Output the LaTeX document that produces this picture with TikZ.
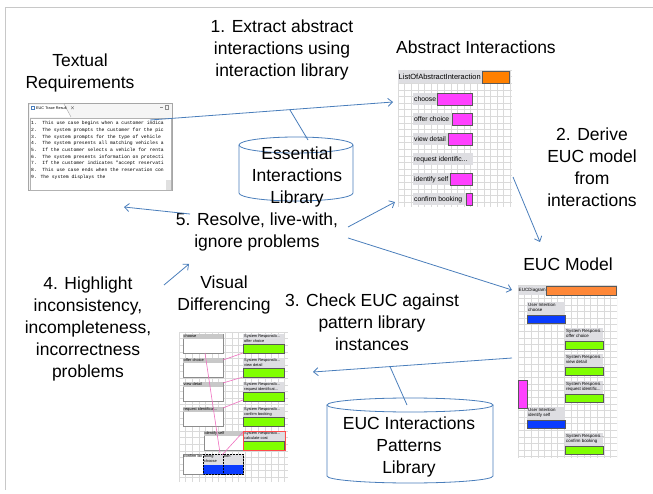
\documentclass[tikz,border=0pt]{standalone}
\usepackage{fontspec}
\setmainfont{Liberation Sans}
\newfontfamily\monof{Liberation Mono}
\usetikzlibrary{arrows.meta}
\newcommand\trdots{.\kern0pt.\kern0pt.}
\definecolor{arrowblue}{HTML}{4A7EBB}
\definecolor{gridc}{HTML}{DADADA}
\definecolor{magbar}{HTML}{FF40FF}
\definecolor{orangeA}{HTML}{FF8000}
\definecolor{orangeB}{HTML}{FF8838}
\definecolor{greenbar}{HTML}{80FF00}
\definecolor{bluebar}{HTML}{0A3CFF}
\definecolor{lblgray}{HTML}{DEDEE2}
\definecolor{hdrgray}{HTML}{C8C8C8}
\definecolor{framegray}{HTML}{C8C8C8}
\definecolor{pinkline}{HTML}{F070C0}
\begin{document}
\begin{tikzpicture}[x=1pt,y=-1pt,
  big/.style={font=\fontsize{17.5}{22}\selectfont, align=center, inner sep=0pt},
  arr/.style={draw=arrowblue, line width=0.8pt, -{Straight Barb[length=4.5pt,width=8pt]}},
  conn/.style={draw=arrowblue, line width=0.8pt},
  tiny/.style={font=\fontsize{4.4}{5}\selectfont, inner sep=0pt, anchor=north west, align=left},
  small/.style={font=\fontsize{6.8}{7}\selectfont, inner sep=0pt, anchor=west},
  gridl/.style={draw=gridc, line width=0.4pt},
  barb/.style={draw=black!65, line width=0.4pt},
]
\useasboundingbox (0,0) rectangle (653,494);
\draw[framegray, line width=1pt] (653,8) -- (5,8) -- (5,490);

% ---------------- Textual requirements ----------------
\node[big] (treq) at (80,73) {Textual\\Requirements};
\draw[black!35, fill=black!4, line width=0.4pt] (28,103) rectangle (172,190);
\draw[black!35, fill=white, line width=0.4pt] (29,117) -- (29,104) -- (64,104) -- (71,117);
\draw[arrowblue, line width=0.4pt] (31,106) rectangle (34,109);
\node[tiny, font=\fontsize{3.8}{4}\selectfont] (tabl) at (36,105.5) {EUC Trace Result \ \ $\times$};
\draw[black!45, line width=0.4pt] (160,107) -- (163,107);
\draw[black!45, line width=0.4pt] (165,105) rectangle (168,109);
\draw[black!30, fill=white, line width=0.4pt] (30,118) rectangle (171,190);
\fill[black!12] (166,180) rectangle (171,190);
\node[anchor=north west, inner sep=0pt, font=\monof\fontsize{4.7}{6.7}\selectfont, align=left] (reqtext) at (31,121)
{1.~~This use case begins when a customer indica\\
2.~~The system prompts the customer for the pic\\
3.~~The system prompts for the type of vehicle\\
4.~~The system presents all matching vehicles a\\
5.~~If the customer selects a vehicle for renta\\
6.~~The system presents information on protecti\\
7.~~If the customer indicates "accept reservati\\
8.~~This use case ends when the reservation con\\
9. The system displays the};

% ---------------- Labels ----------------
\node[big] (step1) at (282,50) {1. Extract abstract\\interactions using\\interaction library};
\node[big] (aititle) at (476,47) {Abstract Interactions};
\node[big] (step2) at (592,167) {2. Derive\\EUC model\\from\\interactions};
\node[big] (euctitle) at (568,264) {EUC Model};
\node[big] (step5) at (257,232) {5. Resolve, live-with,\\ignore problems};
\node[big] (vdtitle) at (224,295) {Visual\\Differencing};
\node[big] (step3) at (372,322) {3. Check EUC against\\pattern library\\instances};
\node[big] (step4) at (88,329) {4. Highlight\\inconsistency,\\incompleteness,\\incorrectness\\problems};

% ---------------- Essential Interactions Library cylinder ----------------
\draw[conn, fill=white] (239,145) -- (239,193) arc[start angle=180, end angle=0, x radius=57, y radius=8] -- (353,145);
\draw[conn] (296,145) ellipse [x radius=57, y radius=8];
\node[big] (eil) at (297,177) {Essential\\Interactions\\Library};
\coordinate (eiltop) at (308,140);

% ---------------- EUC Interactions Patterns Library cylinder ----------------
\draw[conn, fill=white] (327,405) -- (327,476) arc[start angle=180, end angle=0, x radius=83, y radius=7] -- (493,405);
\draw[conn] (410,405) ellipse [x radius=83, y radius=7];
\node[big] (epl) at (409,447) {EUC Interactions\\Patterns\\Library};
\coordinate (epltop) at (407,405);

% ---------------- Abstract Interactions screenshot ----------------
\fill[white] (398,70) rectangle (512,207);
\begin{scope}
\clip (398,70) rectangle (512,207);
\foreach \gx in {398,404.6,...,512} \draw[gridl] (\gx,70) -- (\gx,207);
\foreach \gy in {70,76.6,...,207} \draw[gridl] (398,\gy) -- (512,\gy);
\end{scope}
\fill[lblgray] (398,70) rectangle (482,83);
\node[small] (aihdr) at (398.5,76.5) {\resizebox{82pt}{!}{ListOfAbstractInteraction}};
\filldraw[fill=orangeA, barb] (482,71) rectangle (509,83);
\foreach \yy/\lab/\ms [count=\i] in {93/choose/437, 113/offer choice/452, 133/view detail/448, 153/request identific\trdots/0, 173/identify self/450, 193/confirm booking/466}{
  \fill[lblgray] (413,\yy) rectangle (473,\yy+12);
  \node[small] (ai\i) at (414,\yy+6.3) {\lab};
  \ifnum\ms>0 \filldraw[fill=magbar, barb] (\ms,\yy+0.5) rectangle (472,\yy+12);\fi
}

% ---------------- EUC Model screenshot ----------------
\fill[white] (518,285) rectangle (617,458);
\begin{scope}
\clip (518,285) rectangle (617,458);
\foreach \gx in {518,524.6,...,618} \draw[gridl] (\gx,285) -- (\gx,458);
\foreach \gy in {285,291.6,...,458} \draw[gridl] (518,\gy) -- (617,\gy);
\end{scope}
\fill[lblgray] (518,286) rectangle (546,295);
\node[tiny, anchor=west, font=\fontsize{4.6}{5}\selectfont] (euchdr) at (518.5,290.5) {EUCDiagram};
\filldraw[fill=orangeB, barb] (546,286) rectangle (616,295);
% user intentions
\foreach \yy/\lab [count=\i] in {302/choose, 407/identify self}{
  \fill[lblgray] (527,\yy) rectangle (565,\yy+13);
  \node[tiny] (eucu\i) at (528,\yy+1.5) {User Intention\\\lab};
  \filldraw[fill=bluebar, barb] (527,\yy+13) rectangle (565,\yy+21);
}
% system responses
\foreach \yy/\lab [count=\i] in {328/offer choice, 354/view detail, 381/request identific\trdots, 433/confirm booking}{
  \fill[lblgray] (565,\yy) rectangle (603,\yy+13);
  \node[tiny] (eucs\i) at (566,\yy+1.5) {System Responsi\trdots\\\lab};
  \filldraw[fill=greenbar, barb] (565,\yy+13) rectangle (603,\yy+21);
}
\filldraw[fill=magbar, barb] (518,380) rectangle (527,408);

% ---------------- Visual Differencing screenshot ----------------
\fill[white] (179,332) rectangle (288,482);
\begin{scope}
\clip (179,332) rectangle (288,482);
\foreach \gx in {179,185.6,...,289} \draw[gridl] (\gx,332) -- (\gx,482);
\foreach \gy in {332,338.6,...,482} \draw[gridl] (179,\gy) -- (288,\gy);
\end{scope}
\foreach \xa/\xb/\yy/\lab [count=\i] in {183/223/334/choose, 183/223/358/offer choice, 183/223/382/view detail, 183/223/407/request identificat\trdots, 204/243/431/identify self}{
  \filldraw[fill=white, draw=black!45, line width=0.4pt] (\xa,\yy) rectangle (\xb,\yy+19);
  \fill[hdrgray] (\xa,\yy) rectangle (\xb,\yy+5);
  \node[tiny, font=\fontsize{3.9}{4.5}\selectfont] (vdl\i) at (\xa+0.5,\yy+0.3) {\lab};
}
\foreach \yy/\lab [count=\i] in {334/offer choice, 358/view detail, 382/request identificat\trdots, 407/confirm booking, 431/calculate cost}{
  \fill[lblgray] (243,\yy) rectangle (284,\yy+10);
  \node[tiny, font=\fontsize{3.9}{4.6}\selectfont] (vdr\i) at (244,\yy+0.8) {System Responsib\trdots\\\lab};
  \filldraw[fill=greenbar, barb] (243,\yy+10) rectangle (284,\yy+19);
}
\draw[red!70, line width=0.6pt] (243,431) rectangle (285,450);
% confirm booking row
\filldraw[fill=white, draw=black!45, line width=0.4pt] (183,454) rectangle (243,474);
\node[tiny, font=\fontsize{3.9}{4.5}\selectfont] (vdcb) at (183.5,454.5) {confirm bo};
\fill[lblgray] (203,454) rectangle (243,465);
\node[tiny, font=\fontsize{3.9}{4.5}\selectfont] (vdok) at (204,454.8) {oking\\choose};
\node[tiny, font=\fontsize{3.9}{4.5}\selectfont] (vdti) at (224,454.8) {tion};
\fill[bluebar] (203,465) rectangle (243,474);
\draw[black, densely dotted, line width=0.5pt] (203,454) rectangle (243,474) (223,454) -- (223,474);
% pink links
\draw[pinkline, line width=0.6pt] (243,353) -- (223,360);
\draw[pinkline, line width=0.6pt] (243,377) -- (223,383);
\draw[pinkline, line width=0.6pt] (243,400) -- (223,408);
\draw[pinkline, line width=0.6pt] (243,432) -- (222,455);
\draw[pinkline, line width=0.6pt] (205,353) -- (220,453);

% ---------------- Connectors ----------------
\coordinate (a1s) at (150,120);
\coordinate (a1e) at (393,102);
\draw[arr] (a1s) -- (a1e);
\coordinate (c1s) at (290,110);
\draw[conn] (c1s) -- (eiltop);
\coordinate (a2s) at (513,177);
\coordinate (a2e) at (540,242);
\draw[arr] (a2s) -- (a2e);
\coordinate (a3s) at (190,214);
\coordinate (a3e) at (124,207);
\draw[arr] (a3s) -- (a3e);
\coordinate (a4s) at (348,227);
\coordinate (a4e) at (395,202);
\draw[arr] (a4s) -- (a4e);
\coordinate (a5s) at (348,238);
\coordinate (a5e) at (512,290);
\draw[arr] (a5s) -- (a5e);
\coordinate (a6s) at (164,285);
\coordinate (a6e) at (189,264);
\draw[arr] (a6s) -- (a6e);
\coordinate (a7s) at (512,358);
\coordinate (a7e) at (313,372);
\draw[arr] (a7s) -- (a7e);
\coordinate (c2s) at (390,366.6);
\draw[conn] (c2s) -- (epltop);
\end{tikzpicture}
\end{document}
